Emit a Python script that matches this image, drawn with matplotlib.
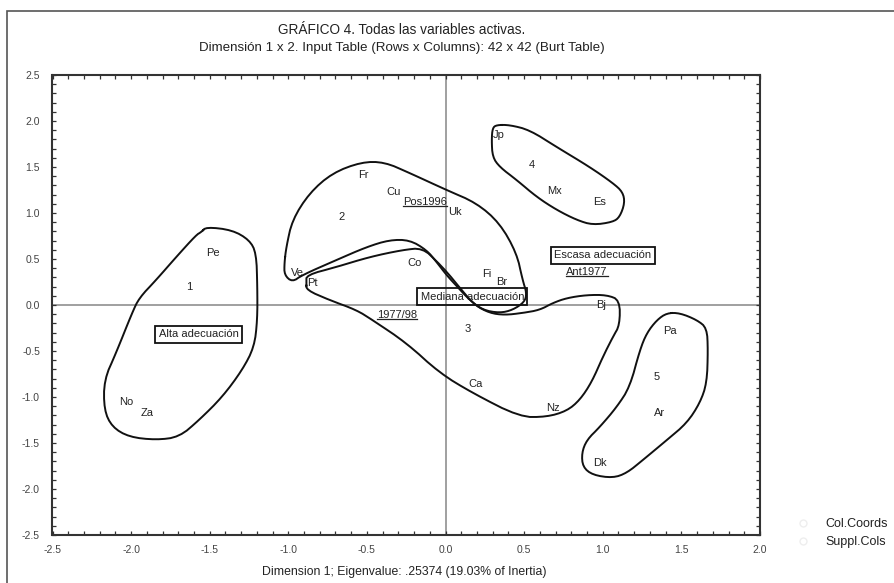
import matplotlib.pyplot as plt
from matplotlib.patches import Rectangle
from matplotlib.lines import Line2D
from matplotlib.ticker import MultipleLocator, FormatStrFormatter

plt.rcParams['font.family'] = ['Liberation Sans', 'DejaVu Sans']
plt.rcParams['axes.unicode_minus'] = False

# column coordinates (dim 1, dim 2)
col_labels = ['Pe', '1', 'No', 'Za', 'Fr', 'Cu', 'Uk', '2', 'Co', 'Ve', 'Pt',
              'Fi', 'Br', '3', 'Ca', 'Nz', 'Jp', '4', 'Mx', 'Es', 'Bj',
              'Pa', '5', 'Ar', 'Dk']
col_x = [-1.48, -1.63, -2.03, -1.90, -0.52, -0.33, 0.06, -0.66, -0.20, -0.94, -0.85,
         0.26, 0.36, 0.14, 0.19, 0.68, 0.34, 0.55, 0.69, 0.98, 0.99,
         1.43, 1.34, 1.36, 0.98]
col_y = [0.57, 0.20, -1.05, -1.17, 1.41, 1.23, 1.01, 0.96, 0.46, 0.35, 0.24,
         0.34, 0.25, -0.26, -0.86, -1.12, 1.85, 1.52, 1.24, 1.12, 0.00,
         -0.28, -0.78, -1.17, -1.72]

# boxed categories
box_labels = ['Alta adecuación', 'Mediana adecuación', 'Escasa adecuación']
box_x = [-1.57, 0.17, 1.00]
box_y = [-0.32, 0.09, 0.54]

# supplementary columns (underlined)
supp_labels = ['Pos1996', 'Ant1977', '1977/98']
supp_x = [-0.13, 0.90, -0.31]
supp_y = [1.12, 0.36, -0.11]

# hand-drawn group outlines
grupo1 = [(-1.554, 0.793), (-1.522, 0.848), (-1.357, 0.815), (-1.248, 0.707), (-1.204, 0.565),
          (-1.197, 0.196), (-1.197, -0.163), (-1.217, -0.457), (-1.293, -0.707), (-1.420, -1.000),
          (-1.567, -1.250), (-1.694, -1.435), (-1.841, -1.467), (-2.013, -1.435), (-2.121, -1.326),
          (-2.172, -1.141), (-2.172, -0.815), (-2.096, -0.522), (-1.994, -0.087), (-1.949, 0.076),
          (-1.841, 0.272), (-1.713, 0.522), (-1.586, 0.761)]
grupo2 = [(-1.025, 0.457), (-1.013, 0.630), (-0.975, 0.924), (-0.866, 1.217), (-0.720, 1.435),
          (-0.535, 1.554), (-0.389, 1.554), (-0.229, 1.435), (0.006, 1.250), (0.197, 1.109),
          (0.344, 0.891), (0.452, 0.565), (0.490, 0.272), (0.516, 0.130), (0.503, 0.033),
          (0.427, -0.054), (0.344, -0.087), (0.236, -0.054), (0.153, 0.054), (0.076, 0.196),
          (0.006, 0.326), (-0.057, 0.467), (-0.121, 0.598), (-0.229, 0.707), (-0.357, 0.707),
          (-0.503, 0.630), (-0.694, 0.489), (-0.911, 0.326), (-0.975, 0.250), (-1.025, 0.326)]
grupo3 = [(-0.885, 0.239), (-0.885, 0.163), (-0.739, 0.054), (-0.567, -0.054), (-0.465, -0.163),
          (-0.248, -0.413), (-0.038, -0.739), (0.172, -0.957), (0.471, -1.217), (0.643, -1.217),
          (0.771, -1.152), (0.854, -1.033), (0.930, -0.837), (1.000, -0.565), (1.064, -0.348),
          (1.108, -0.217), (1.108, 0.054), (1.025, 0.109), (0.898, 0.109), (0.771, 0.076),
          (0.682, 0.022), (0.599, -0.054), (0.490, -0.087), (0.376, -0.109), (0.280, -0.087),
          (0.185, 0.000), (0.102, 0.163), (0.025, 0.326), (-0.051, 0.467), (-0.146, 0.620),
          (-0.274, 0.598), (-0.484, 0.522), (-0.694, 0.413), (-0.885, 0.326)]
grupo4 = [(0.325, 1.957), (0.408, 1.957), (0.535, 1.902), (0.707, 1.717), (0.917, 1.500),
          (1.064, 1.326), (1.127, 1.228), (1.140, 1.109), (1.108, 0.957), (1.064, 0.902),
          (0.936, 0.870), (0.834, 0.924), (0.707, 1.033), (0.580, 1.174), (0.452, 1.359),
          (0.344, 1.500), (0.299, 1.609), (0.293, 1.793), (0.299, 1.924)]
grupo5 = [(1.408, -0.087), (1.490, -0.087), (1.599, -0.163), (1.662, -0.250), (1.669, -0.489),
          (1.662, -0.848), (1.618, -1.065), (1.535, -1.283), (1.408, -1.467), (1.255, -1.685),
          (1.153, -1.826), (1.064, -1.880), (0.936, -1.848), (0.873, -1.761), (0.866, -1.609),
          (0.898, -1.467), (0.981, -1.326), (1.089, -1.109), (1.172, -0.891), (1.236, -0.489),
          (1.280, -0.304), (1.344, -0.163)]
grupos = [grupo1, grupo2, grupo3, grupo4, grupo5]


def chaikin(pts, n_iter=2):
    """Corner cutting to soften the hand-drawn outline (closed path)."""
    for _ in range(n_iter):
        new = []
        for i in range(len(pts)):
            p, q = pts[i], pts[(i + 1) % len(pts)]
            new.append((0.75 * p[0] + 0.25 * q[0], 0.75 * p[1] + 0.25 * q[1]))
            new.append((0.25 * p[0] + 0.75 * q[0], 0.25 * p[1] + 0.75 * q[1]))
        pts = new
    return pts


fig = plt.figure(figsize=(8.95, 5.83), dpi=100)
ax = fig.add_axes([52.5 / 895, 1 - 535 / 583, (760 - 52.5) / 895, (535 - 75) / 583])

ax.axhline(0, color='#999999', lw=1.3, zorder=0)
ax.axvline(0, color='#999999', lw=1.3, zorder=0)

ax.scatter(col_x + box_x, col_y + box_y, s=12, c='white', edgecolors='white', zorder=0)
ax.scatter(supp_x, supp_y, s=12, c='white', edgecolors='white', zorder=0)

for g in grupos:
    sm = chaikin(g)
    xs = [p[0] for p in sm] + [sm[0][0]]
    ys = [p[1] for p in sm] + [sm[0][1]]
    ax.plot(xs, ys, color='#111111', lw=1.4, zorder=3)

for lab, x, y in zip(col_labels, col_x, col_y):
    ax.text(x, y, lab, fontsize=8, color='#222222', ha='center', va='center', zorder=2)

for lab, x, y in zip(box_labels, box_x, box_y):
    ax.text(x, y, lab, fontsize=8, color='#222222', ha='center', va='center', zorder=1,
            bbox=dict(boxstyle='square,pad=0.3', fc='none', ec='#111111', lw=1.3))

sup_texts = []
for lab, x, y in zip(supp_labels, supp_x, supp_y):
    sup_texts.append(ax.text(x, y, lab, fontsize=8, color='#222222', ha='center',
                             va='center', zorder=2))

ax.set_xlim(-2.5, 2.0)
ax.set_ylim(-2.5, 2.5)
ax.xaxis.set_major_locator(MultipleLocator(0.5))
ax.yaxis.set_major_locator(MultipleLocator(0.5))
ax.xaxis.set_minor_locator(MultipleLocator(0.1))
ax.yaxis.set_minor_locator(MultipleLocator(0.1))
ax.xaxis.set_major_formatter(FormatStrFormatter('%.1f'))
ax.yaxis.set_major_formatter(FormatStrFormatter('%.1f'))
ax.tick_params(which='both', direction='in', top=True, right=True, length=3, width=0.9,
               color='#333333', labelsize=7.5, labelcolor='#444444')
ax.tick_params(axis='x', pad=7)
ax.tick_params(axis='y', pad=9)
for s in ax.spines.values():
    s.set_color('#333333')
    s.set_linewidth(1.5)

# underline supplementary labels
renderer = fig.canvas.get_renderer()
inv = ax.transData.inverted()
for t in sup_texts:
    bb = t.get_window_extent(renderer=renderer)
    (x0, y0), (x1, _) = inv.transform([(bb.x0, bb.y0 + 1), (bb.x1, bb.y0 + 1)])
    ax.plot([x0, x1], [y0, y0], color='#222222', lw=0.9, zorder=2)

fig.text(402 / 895, 1 - 30 / 583, 'GRÁFICO 4. Todas las variables activas.',
         ha='center', va='center', fontsize=9.8, color='#222222')
fig.text(402 / 895, 1 - 48 / 583,
         'Dimensión 1 x 2. Input Table (Rows x Columns): 42 x 42 (Burt Table)',
         ha='center', va='center', fontsize=9.6, color='#222222')
fig.text(404 / 895, 1 - 572 / 583, 'Dimension 1; Eigenvalue: .25374 (19.03% of Inertia)',
         ha='center', va='center', fontsize=8.8, color='#222222')

leg_handles = [Line2D([], [], ls='none', marker='o', ms=5, mfc='white', mec='#eeeeee'),
               Line2D([], [], ls='none', marker='o', ms=5, mfc='white', mec='#eeeeee')]
fig.legend(leg_handles, ['Col.Coords', 'Suppl.Cols'], loc='upper left',
           bbox_to_anchor=(797 / 895, 1 - 518 / 583), frameon=False, fontsize=9,
           handlelength=1.0, handletextpad=1.3, labelspacing=0.5, borderpad=0,
           borderaxespad=0, labelcolor='#222222')

fig.patches.append(Rectangle((7 / 895, -0.05), 1.2, 1 - 11 / 583 + 0.05,
                             transform=fig.transFigure, fill=False, ec='#555555', lw=1.2))

fig.savefig('out.png', dpi=100)
